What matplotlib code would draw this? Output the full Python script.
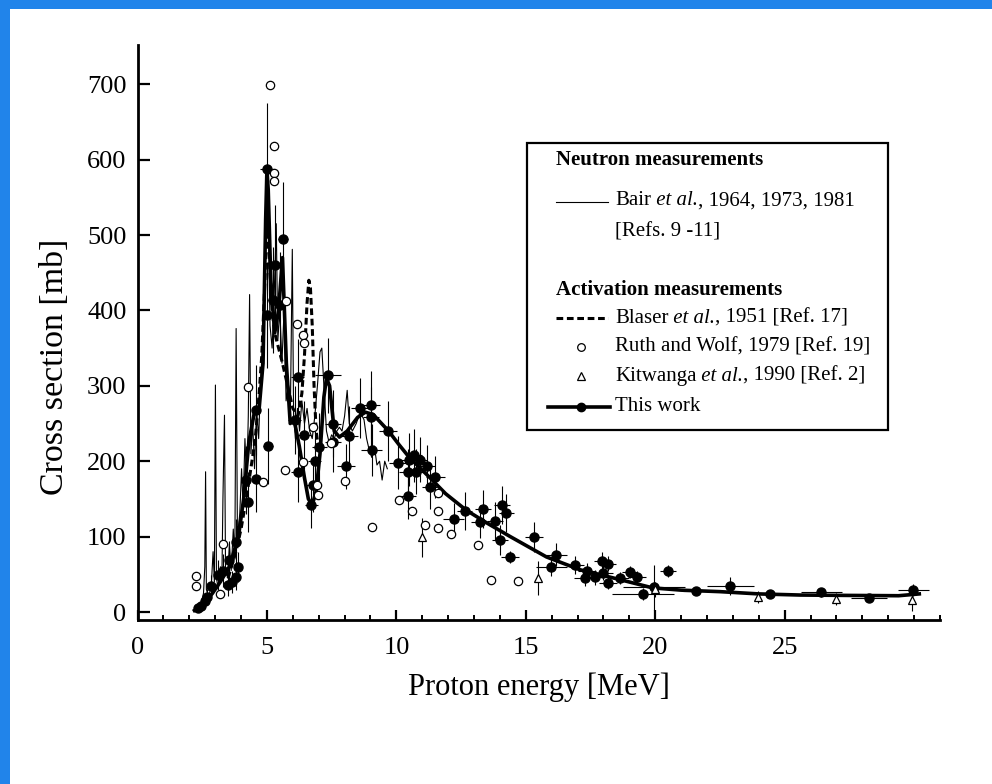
import matplotlib.pyplot as plt
from matplotlib.patches import Rectangle

plt.rcParams['font.family'] = 'Liberation Serif'

# Bair et al. neutron measurements (thin line)
bair_e = [2.30, 2.45, 2.55, 2.60, 2.63, 2.66, 2.75, 2.85, 2.92, 2.97, 3.01, 3.05, 3.12, 3.20,
          3.26, 3.30, 3.36, 3.40, 3.48, 3.55, 3.62, 3.70, 3.76, 3.81, 3.86, 3.95, 4.02, 4.08,
          4.15, 4.22, 4.28, 4.33, 4.38, 4.45, 4.52, 4.60, 4.68, 4.75, 4.82, 4.90, 4.95, 5.00,
          5.05, 5.12, 5.20, 5.28, 5.36, 5.42, 5.50, 5.58, 5.66, 5.74, 5.82, 5.90, 5.98, 6.03,
          6.10, 6.18, 6.26, 6.35, 6.45, 6.55, 6.65, 6.75, 6.85, 6.95, 7.05, 7.12, 7.20, 7.30,
          7.40, 7.50, 7.60, 7.70, 7.80, 7.90, 8.00, 8.10, 8.18, 8.30, 8.45, 8.60, 8.75, 8.85,
          8.95, 9.05, 9.15, 9.25, 9.35, 9.45, 9.55, 9.65]
bair_xs = [5, 10, 25, 60, 186, 30, 20, 35, 80, 40, 301, 45, 30, 60,
           45, 150, 261, 60, 45, 90, 55, 110, 70, 376, 100, 130, 190, 140,
           230, 170, 260, 421, 210, 250, 190, 270, 230, 300, 350, 420, 500, 560,
           520, 380, 350, 420, 515, 360, 400, 330, 400, 280, 300, 250, 481, 260,
           230, 270, 240, 280, 250, 270, 240, 230, 260, 300, 345, 350, 300, 240,
           225, 235, 230, 240, 245, 240, 260, 294, 250, 240, 250, 265, 255, 230,
           215, 205, 220, 195, 200, 175, 200, 190]

# Blaser et al. activation (dashed)
blaser_e = [3.5, 3.8, 4.0, 4.2, 4.4, 4.55, 4.7, 4.8, 4.9, 4.97, 5.05, 5.12, 5.2, 5.3,
            5.45, 5.6, 5.8, 6.0, 6.2, 6.35, 6.45, 6.55, 6.62, 6.68, 6.75, 6.82, 6.9, 7.0]
blaser_xs = [45, 80, 110, 150, 195, 230, 290, 340, 420, 490, 500, 450, 400, 370,
             350, 330, 300, 270, 260, 290, 340, 410, 440, 430, 380, 300, 240, 215]

# Ruth and Wolf (open circles)
ruth_e = [2.27, 2.27, 3.17, 3.32, 4.26, 4.84, 5.10, 5.29, 5.29, 5.27, 5.72, 5.68, 6.16,
          6.39, 6.45, 6.38, 6.77, 6.92, 6.98, 7.48, 8.02, 9.06, 10.10, 10.60, 11.12,
          11.60, 11.60, 11.60, 12.12, 13.15, 13.66, 14.69]
ruth_xs = [48, 34, 24, 90, 299, 172, 699, 618, 582, 572, 412, 188, 382,
           367, 357, 199, 246, 168, 155, 224, 174, 113, 148, 134, 116,
           158, 134, 111, 103, 89, 43, 41]

# Kitwanga et al. (open triangles)
kit_e = [10.98, 15.47, 20.00, 23.97, 26.97, 29.93]
kit_xs = [99, 45, 30, 20, 17, 16]
kit_err = [26, 22, 10, 8, 8, 15]

# This work: measured points with energy / cross-section uncertainties
work_e = [2.33, 2.45, 2.59, 2.70, 2.85, 3.10, 3.30, 3.49, 3.55, 3.65, 3.81, 3.81, 3.90,
          4.20, 4.26, 4.59, 4.59, 5.04, 5.00, 5.00, 5.23, 5.32, 5.49, 5.63, 6.07, 6.19,
          6.19, 6.45, 6.71, 6.77, 6.84, 7.03, 7.35, 7.55, 7.55, 8.06, 8.17, 8.58, 9.03,
          9.03, 9.05, 9.67, 10.06, 10.45, 10.45, 10.48, 10.70, 10.77, 10.90, 11.18, 11.28,
          11.51, 12.21, 12.64, 13.24, 13.34, 13.80, 14.01, 14.09, 14.25, 14.40, 15.30,
          15.98, 16.18, 16.91, 17.27, 17.36, 17.66, 17.94, 17.98, 18.17, 18.17, 18.62,
          19.01, 19.31, 19.52, 19.94, 20.49, 21.59, 22.90, 24.45, 26.42, 28.26, 29.96]
work_xs = [5, 8, 14, 20, 34, 49, 55, 36, 69, 40, 47, 93, 60,
           175, 146, 177, 268, 220, 394, 587, 414, 460, 407, 495, 255, 312,
           186, 235, 142, 168, 200, 219, 314, 226, 250, 193, 233, 271, 274,
           259, 215, 240, 198, 186, 154, 202, 208, 186, 202, 194, 166,
           179, 123, 134, 120, 137, 121, 95, 142, 131, 73, 99,
           60, 76, 62, 45, 55, 46, 67, 52, 64, 39, 45,
           53, 46, 24, 33, 55, 28, 34, 24, 26, 18, 29]
work_de = [0.10, 0.10, 0.10, 0.10, 0.12, 0.12, 0.12, 0.12, 0.12, 0.12, 0.15, 0.15, 0.15,
           0.15, 0.15, 0.15, 0.15, 0.20, 0.20, 0.26, 0.20, 0.20, 0.20, 0.20, 0.25, 0.25,
           0.25, 0.25, 0.25, 0.25, 0.25, 0.30, 0.50, 0.30, 0.30, 0.35, 0.35, 0.35, 0.35,
           0.30, 0.40, 0.35, 0.35, 0.35, 0.30, 0.30, 0.30, 0.30, 0.30, 0.30, 0.30,
           0.35, 0.40, 0.30, 0.35, 0.30, 0.30, 0.30, 0.30, 0.30, 0.35, 0.35,
           0.60, 0.40, 0.35, 0.40, 0.35, 0.35, 0.30, 0.40, 0.30, 0.35, 0.35,
           0.30, 0.35, 1.20, 1.20, 0.30, 0.50, 0.90, 0.50, 0.80, 0.70, 0.60]
work_dxs = [4, 6, 8, 10, 15, 20, 22, 15, 25, 15, 18, 30, 20,
            45, 40, 45, 60, 50, 70, 88, 70, 80, 70, 75, 45, 50,
            40, 45, 30, 35, 40, 45, 50, 40, 45, 30, 40, 40, 45,
            40, 35, 40, 35, 30, 30, 35, 35, 30, 30, 28, 30,
            28, 22, 25, 22, 25, 25, 20, 25, 25, 8, 20,
            12, 15, 12, 10, 10, 10, 12, 10, 10, 8, 8,
            8, 8, 8, 30, 8, 5, 12, 5, 6, 5, 8]

# This work: smooth curve through the data
fit_e = [2.2, 2.5, 2.9, 3.2, 3.55, 3.9, 4.1, 4.3, 4.5, 4.7, 4.85, 4.95, 5.0, 5.05, 5.15,
         5.3, 5.45, 5.6, 5.75, 5.9, 6.05, 6.25, 6.45, 6.6, 6.75, 6.9, 7.05, 7.2, 7.3, 7.42,
         7.6, 7.8, 8.1, 8.5, 8.8, 9.1, 9.7, 10.1, 10.5, 11.3, 11.9, 12.7, 13.5, 14.4, 15.8,
         17.1, 18.4, 19.9, 21.0, 22.5, 24.0, 25.6, 27.5, 29.4, 30.2]
fit_xs = [2, 8, 25, 40, 60, 100, 150, 225, 262, 270, 330, 520, 587, 560, 440,
          370, 400, 470, 330, 250, 255, 220, 178, 150, 142, 160, 210, 285, 310, 300,
          240, 232, 240, 258, 265, 262, 240, 222, 205, 178, 157, 135, 118, 100, 73,
          56, 45, 32, 29, 27, 24, 22.5, 22, 21.6, 24]

fig = plt.figure(figsize=(9.92, 7.84), dpi=100)
fig.patch.set_facecolor('#2184ea')
fig.add_artist(Rectangle((10 / 992, 0), 1, 1 - 9 / 784, transform=fig.transFigure,
                         facecolor='white', edgecolor='none', zorder=0))

ax = fig.add_axes([137.5 / 992, 164 / 784, 802.5 / 992, 575 / 784])
ax.set_facecolor('white')

ax.plot(bair_e, bair_xs, '-', color='black', lw=0.8, zorder=2)
ax.plot(blaser_e, blaser_xs, color='black', lw=2.2, ls=(0, (2.2, 1.2)), zorder=3)
ax.plot(fit_e, fit_xs, '-', color='black', lw=2.6, zorder=4)
ax.errorbar(work_e, work_xs, xerr=work_de, yerr=work_dxs, fmt='o', color='black',
            ms=6.5, elinewidth=0.8, capsize=0, zorder=5)
ax.errorbar(kit_e, kit_xs, yerr=kit_err, fmt='^', mfc='white', mec='black', ecolor='black',
            ms=6, mew=0.9, elinewidth=0.8, capsize=0, zorder=6)
ax.plot(ruth_e, ruth_xs, 'o', mfc='white', mec='black', ms=6, mew=0.9, zorder=6)

ax.set_xlim(0, 31)
ax.set_ylim(-10.6, 752)
ax.set_xticks([0, 5, 10, 15, 20, 25])
ax.set_xticks(range(0, 32), minor=True)
ax.set_yticks(range(0, 800, 100))
ax.tick_params(axis='both', which='major', direction='in', length=7.5, width=1.6,
               labelsize=19)
ax.tick_params(axis='x', which='minor', direction='in', length=3.8, width=1.4)
ax.tick_params(axis='x', which='major', pad=12)
ax.tick_params(axis='y', which='major', length=8.5, pad=8)
for side in ['top', 'right']:
    ax.spines[side].set_visible(False)
for side in ['left', 'bottom']:
    ax.spines[side].set_linewidth(2.0)

ax.set_xlabel('Proton energy [MeV]', fontsize=22, labelpad=10)
ax.set_ylabel('Cross section [mb]', fontsize=24.5)
ax.yaxis.set_label_coords(-0.084, 0.44)

# legend box
tr = ax.transAxes
fs = 15
tx = 0.595


def legend_text(x, y, pieces):
    # pieces: (text, style) chained left to right on one baseline
    t = ax.text(x, y, pieces[0][0], style=pieces[0][1], transform=tr, fontsize=fs,
                va='center', zorder=11)
    for s, st in pieces[1:]:
        t = ax.annotate(s, xy=(1, 0), xycoords=t, ha='left', va='bottom', fontsize=fs,
                        style=st, zorder=11)


ax.add_patch(Rectangle((0.4854, 0.3304), 0.4498, 0.4992, transform=tr, facecolor='white',
                       edgecolor='black', lw=1.6, zorder=10, clip_on=False))
ax.text(0.5215, 0.800, 'Neutron measurements', transform=tr, fontsize=fs,
        fontweight='bold', va='center', zorder=11)
ax.plot([0.5215, 0.5863], [0.7275, 0.7275], transform=tr, color='black', lw=0.8, zorder=11)
legend_text(tx, 0.7287, [('Bair', 'normal'), (' et al.', 'italic'),
                         (', 1964, 1973, 1981', 'normal')])
ax.text(tx, 0.6748, '[Refs. 9 -11]', transform=tr, fontsize=fs, va='center', zorder=11)
ax.text(0.5215, 0.5739, 'Activation measurements', transform=tr, fontsize=fs,
        fontweight='bold', va='center', zorder=11)
ax.plot([0.5215, 0.5863], [0.5252, 0.5252], transform=tr, color='black', lw=2.2,
        ls=(0, (2.2, 1.2)), zorder=11)
legend_text(tx, 0.5252, [('Blaser', 'normal'), (' et al.', 'italic'),
                         (', 1951 [Ref. 17]', 'normal')])
ax.plot([0.5529], [0.4748], 'o', transform=tr, mfc='white', mec='black', ms=5.5, mew=0.9,
        zorder=11, clip_on=False)
ax.text(tx, 0.4748, 'Ruth and Wolf, 1979 [Ref. 19]', transform=tr, fontsize=fs,
        va='center', zorder=11)
ax.plot([0.5529], [0.4243], '^', transform=tr, mfc='white', mec='black', ms=5.5, mew=0.9,
        zorder=11, clip_on=False)
legend_text(tx, 0.4243, [('Kitwanga', 'normal'), (' et al.', 'italic'),
                         (', 1990 [Ref. 2]', 'normal')])
ax.plot([0.512, 0.5887], [0.371, 0.371], transform=tr, color='black', lw=2.6, zorder=11)
ax.plot([0.5529], [0.371], 'o', transform=tr, color='black', ms=6, zorder=12)
ax.text(tx, 0.371, 'This work', transform=tr, fontsize=fs, va='center', zorder=11)

fig.savefig('out.png', dpi=100, facecolor=fig.get_facecolor())
